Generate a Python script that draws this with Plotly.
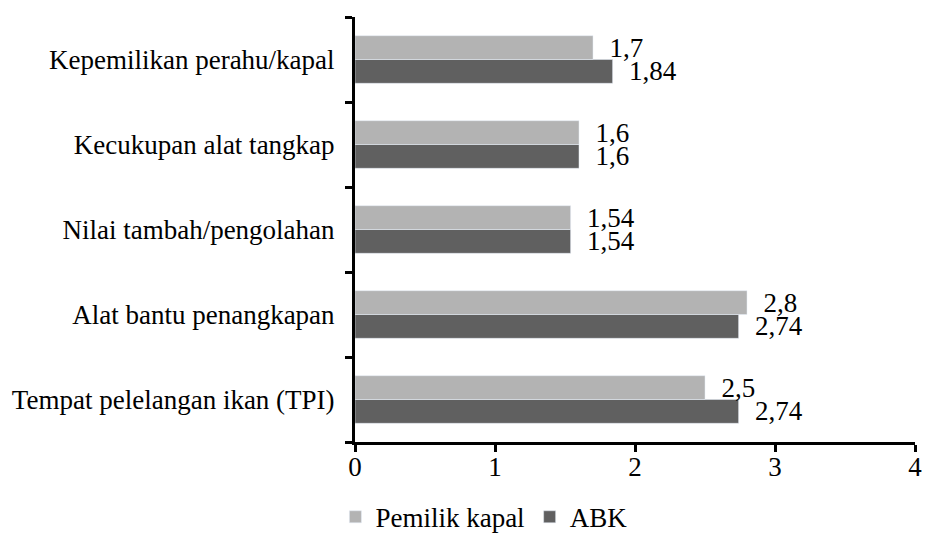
import plotly.graph_objects as go

# Aspects, listed bottom to top as they appear on the axis
categories = [
    "Tempat pelelangan ikan (TPI)",
    "Alat bantu penangkapan",
    "Nilai tambah/pengolahan",
    "Kecukupan alat tangkap",
    "Kepemilikan perahu/kapal",
]
pemilik_kapal = [2.5, 2.8, 1.54, 1.6, 1.7]
abk = [2.74, 2.74, 1.54, 1.6, 1.84]

x_ticks = [0, 1, 2, 3, 4]

FONT = "Liberation Serif"
FS = 27
LIGHT = "#b3b3b3"
DARK = "#606060"


def label(v):
    return "\u00a0\u00a0" + f"{v:g}".replace(".", ",")


fig = go.Figure()
# ABK is added first so it sits at the lower slot of each group
fig.add_trace(go.Bar(
    y=categories, x=abk, name="ABK", orientation="h",
    marker=dict(color=DARK),
    text=[label(v) for v in abk], textposition="outside",
    textfont=dict(family=FONT, size=FS, color="black"),
    constraintext="none", cliponaxis=False,
))
fig.add_trace(go.Bar(
    y=categories, x=pemilik_kapal, name="Pemilik kapal", orientation="h",
    marker=dict(color=LIGHT),
    text=[label(v) for v in pemilik_kapal], textposition="outside",
    textfont=dict(family=FONT, size=FS, color="black"),
    constraintext="none", cliponaxis=False,
))

fig.update_layout(
    width=928, height=548,
    margin=dict(l=355, r=6, t=17, b=96),
    paper_bgcolor="white", plot_bgcolor="white",
    barmode="group", bargap=0.44, bargroupgap=0,
    font=dict(family=FONT, size=FS, color="black"),
    showlegend=True,
    legend=dict(
        orientation="h", traceorder="reversed",
        x=-0.035, xanchor="left", y=-0.177, yanchor="middle",
        font=dict(family=FONT, size=FS, color="black"),
        bgcolor="rgba(0,0,0,0)",
    ),
    xaxis=dict(
        range=[0, 4], tickvals=x_ticks, ticktext=[str(t) for t in x_ticks],
        showgrid=False, zeroline=False,
        showline=True, linecolor="black", linewidth=3,
        ticks="outside", ticklen=7, tickwidth=3, tickcolor="black",
        ticklabeloverflow="allow", ticklabelstandoff=-8,
        tickfont=dict(family=FONT, size=FS, color="black"),
    ),
    yaxis=dict(
        type="category", categoryorder="array", categoryarray=categories,
        showgrid=False, zeroline=False,
        showline=True, linecolor="black", linewidth=3,
        ticks="outside", ticklen=7, tickwidth=3, tickcolor="black",
        tickson="boundaries", ticklabelstandoff=12,
        tickfont=dict(family=FONT, size=FS, color="black"),
    ),
)

fig.write_html("out.html")
